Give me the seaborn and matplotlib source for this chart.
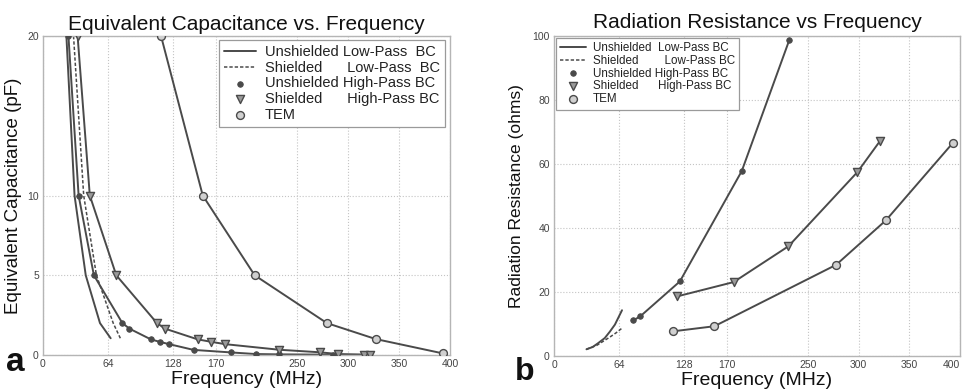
import numpy as np
import pandas as pd
import seaborn as sns
import matplotlib.pyplot as plt

sns.set_theme(style="white")
plt.rcParams['font.family'] = ['Liberation Sans', 'DejaVu Sans']

# ---------------- Panel a: Equivalent capacitance ----------------
cap_ulp_f = [23, 31, 42, 56, 66.5]
cap_ulp_c = [20, 10, 5, 2.0, 1.05]
cap_slp_f = [30, 40, 52.5, 69, 76]
cap_slp_c = [20, 10, 5, 2.0, 1.05]
cap_uhp_f = [25, 35, 50, 78, 85, 106, 115, 124, 148, 185, 209, 232, 285]
cap_uhp_c = [20, 10, 5, 2.0, 1.65, 0.98, 0.82, 0.68, 0.32, 0.16, 0.06, 0.04, 0.02]
cap_shp_f = [34, 46, 72, 112, 120, 152, 165, 179, 232, 272, 290, 315, 321]
cap_shp_c = [20, 10, 5, 2.0, 1.65, 0.98, 0.83, 0.68, 0.33, 0.17, 0.06, 0.03, 0.02]
cap_tem_f = [116, 157, 208, 279, 327, 393]
cap_tem_c = [20, 10, 5, 2.0, 1.0, 0.1]

# ---------------- Panel b: Radiation resistance ----------------
res_ulp_f = [32, 38, 43, 50, 55, 60, 67]
res_ulp_r = [2.1, 2.8, 3.9, 5.6, 7.6, 9.8, 14.3]
res_slp_f = [32, 36, 42, 48, 55, 61, 67]
res_slp_r = [2.1, 2.6, 3.3, 4.5, 5.9, 7.2, 8.7]
res_uhp_f = [78, 85, 124, 185, 232]
res_uhp_r = [11.1, 12.4, 23.3, 57.8, 98.9]
res_shp_f = [121, 177, 231, 299, 321]
res_shp_r = [18.6, 23.1, 34.3, 57.5, 67.1]
res_tem_f = [117, 158, 278, 327, 393]
res_tem_r = [7.7, 9.3, 28.5, 42.4, 66.6]

x_ticks = [0, 64, 128, 170, 250, 300, 350, 400]

LC = '#4a4a4a'

fig = plt.figure(figsize=(9.64, 3.89), dpi=100)
axA = fig.add_axes([43/964, (389-355)/389, 407/964, 319/389])
axB = fig.add_axes([554/964, (389-356)/389, 406/964, 320/389])


def draw(ax, series, labels, legsize, legloc, bbox, labspace):
    for key, (f, v) in series.items():
        if key == 'ulp':
            sns.lineplot(x=f, y=v, ax=ax, color=LC, lw=1.4, sort=False,
                         estimator=None, label=labels[key])
        elif key == 'slp':
            sns.lineplot(x=f, y=v, ax=ax, color=LC, lw=1.1, sort=False,
                         estimator=None, label=labels[key], dashes=False)
            ax.lines[-1].set_dashes((2.2, 1.3))
        else:
            sns.lineplot(x=f, y=v, ax=ax, color=LC, lw=1.4, sort=False,
                         estimator=None, legend=False)
            if key == 'uhp':
                sns.scatterplot(x=f, y=v, ax=ax, color=LC, marker='o', s=16,
                                edgecolor=LC, linewidth=0.6, label=labels[key], zorder=5)
            elif key == 'shp':
                sns.scatterplot(x=f, y=v, ax=ax, marker='v', s=34,
                                facecolor='#9a9a9a', edgecolor=LC, linewidth=1.0,
                                label=labels[key], zorder=5)
            else:
                sns.scatterplot(x=f, y=v, ax=ax, marker='o', s=32,
                                facecolor='#d0d0d0', edgecolor=LC, linewidth=1.0,
                                label=labels[key], zorder=5)
    h, l = ax.get_legend_handles_labels()
    order = [labels[k] for k in ['ulp', 'slp', 'uhp', 'shp', 'tem']]
    hl = dict(zip(l, h))
    leg = ax.legend([hl[o] for o in order], order, loc=legloc, bbox_to_anchor=bbox,
                    fontsize=legsize, frameon=True, fancybox=False, framealpha=1,
                    edgecolor='#9a9a9a', labelspacing=labspace, handlelength=2.2,
                    handletextpad=0.6, borderpad=0.35, borderaxespad=0)
    leg.get_frame().set_linewidth(0.9)
    for t in leg.get_texts():
        t.set_color('#222222')


draw(axA,
     {'ulp': (cap_ulp_f, cap_ulp_c), 'slp': (cap_slp_f, cap_slp_c),
      'uhp': (cap_uhp_f, cap_uhp_c), 'shp': (cap_shp_f, cap_shp_c),
      'tem': (cap_tem_f, cap_tem_c)},
     {'ulp': 'Unshielded Low-Pass  BC', 'slp': 'Shielded      Low-Pass  BC',
      'uhp': 'Unshielded High-Pass BC', 'shp': 'Shielded      High-Pass BC',
      'tem': 'TEM'},
     10.5, 'upper right', (0.988, 0.988), 0.12)

draw(axB,
     {'ulp': (res_ulp_f, res_ulp_r), 'slp': (res_slp_f, res_slp_r),
      'uhp': (res_uhp_f, res_uhp_r), 'shp': (res_shp_f, res_shp_r),
      'tem': (res_tem_f, res_tem_r)},
     {'ulp': 'Unshielded  Low-Pass BC', 'slp': 'Shielded        Low-Pass BC',
      'uhp': 'Unshielded High-Pass BC', 'shp': 'Shielded      High-Pass BC',
      'tem': 'TEM'},
     8.4, 'upper left', (0.005, 0.995), 0.08)

for ax, ylim, yt in [(axA, (0, 20), [0, 5, 10, 20]),
                     (axB, (0, 100), [0, 20, 40, 60, 80, 100])]:
    ax.set_xlim(0, 400)
    ax.set_ylim(*ylim)
    ax.set_xticks(x_ticks)
    ax.set_yticks(yt)
    ax.grid(True, ls=':', color='#c4c4c4', lw=0.8)
    ax.tick_params(axis='both', labelsize=7.5, length=0, pad=3, colors='#444444')
    for sp in ax.spines.values():
        sp.set_color('#b5b5b5')
        sp.set_linewidth(1.0)
    ax.set_xlabel('Frequency (MHz)', fontsize=14, labelpad=1, color='#111111')

# last tick label on panel b sits at the figure edge; nudge it inward
axB.get_xticklabels()[-1].set_horizontalalignment('right')

axA.set_ylabel('Equivalent Capacitance (pF)', fontsize=13.5, labelpad=4, color='#111111')
axB.set_ylabel('Radiation Resistance (ohms)', fontsize=12.5, labelpad=6, color='#111111')
axA.set_title('Equivalent Capacitance vs. Frequency', fontsize=15, pad=4, color='#111111')
axB.set_title('Radiation Resistance vs Frequency', fontsize=15, pad=6, color='#111111')

fig.text(0.006, 0.045, 'a', fontsize=24, fontweight='bold', color='#111111')
fig.text(0.534, 0.004, 'b', fontsize=23, fontweight='bold', color='#111111',
         va='bottom')

fig.savefig('out.png', dpi=100)
